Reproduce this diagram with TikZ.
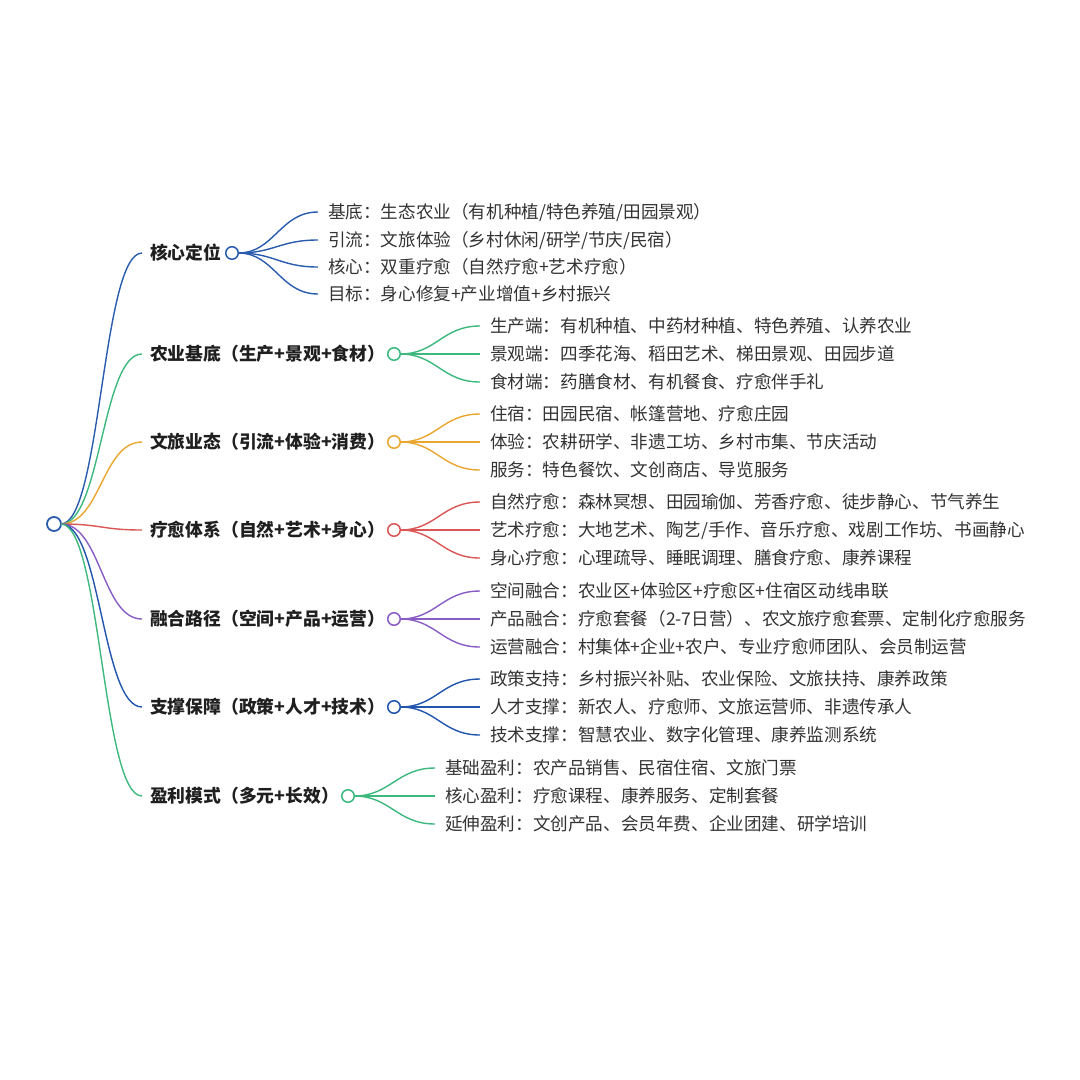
\documentclass[tikz,border=0pt]{standalone}
\usepackage{fontspec}
\setmainfont{Noto Sans CJK SC}
\definecolor{cA}{HTML}{2A5CAE}
\definecolor{cB}{HTML}{3DB97E}
\definecolor{cC}{HTML}{E9A630}
\definecolor{cD}{HTML}{DB5656}
\definecolor{cE}{HTML}{8A5DC4}
\definecolor{cF}{HTML}{2255AE}
\definecolor{cG}{HTML}{3DB97E}
\begin{document}
\begin{tikzpicture}[x=1pt,y=-1pt,
  every node/.style={inner sep=0pt,outer sep=0pt},
  lone/.style={anchor=west,font=\fontsize{17.8pt}{20pt}\selectfont\bfseries,text=black!88,text height=14pt,text depth=0.5pt},
  ltwo/.style={anchor=west,font=\fontsize{17.6pt}{20pt}\selectfont,text=black!80,text height=14pt,text depth=0.5pt},
  dot/.style={circle,draw,fill=white,line width=1.5pt,minimum size=12.5pt},
  link/.style={line width=1.4pt}]
\useasboundingbox[fill=white] (0,0) rectangle (1080,1080);

% root
\node[dot,draw=cA,minimum size=14pt,line width=1.8pt] (root) at (54,524) {};

% level 1 labels
\node[lone] (k1) at (150,253) {核心定位};
\node[lone] (k2) at (150,354) {农业基底（生产+景观+食材）};
\node[lone] (k3) at (150,442) {文旅业态（引流+体验+消费）};
\node[lone] (k4) at (150,530) {疗愈体系（自然+艺术+身心）};
\node[lone] (k5) at (150,619) {融合路径（空间+产品+运营）};
\node[lone] (k6) at (150,707) {支撑保障（政策+人才+技术）};
\node[lone] (k7) at (150,796) {盈利模式（多元+长效）};

% level 1 dots
\node[dot,draw=cA] (d1) at (232,253) {};
\node[dot,draw=cB] (d2) at (394,354) {};
\node[dot,draw=cC] (d3) at (394,442) {};
\node[dot,draw=cD] (d4) at (394,530) {};
\node[dot,draw=cE] (d5) at (394,619) {};
\node[dot,draw=cF] (d6) at (394,707) {};
\node[dot,draw=cG] (d7) at (348,796) {};

% root links
\foreach \k/\c in {k1/cA,k2/cB,k3/cC,k4/cD,k5/cE,k6/cF,k7/cG}
  \draw[link,\c] (root.east) .. controls +(40,0) and +(-40,0) .. ([xshift=-8pt]\k.west);

% level 2 texts
\node[ltwo] (a1) at (328,212) {基底：生态农业（有机种植/特色养殖/田园景观）};
\node[ltwo] (a2) at (328,240) {引流：文旅体验（乡村休闲/研学/节庆/民宿）};
\node[ltwo] (a3) at (328,267) {核心：双重疗愈（自然疗愈+艺术疗愈）};
\node[ltwo] (a4) at (328,294) {目标：身心修复+产业增值+乡村振兴};

\node[ltwo] (b1) at (490,326) {生产端：有机种植、中药材种植、特色养殖、认养农业};
\node[ltwo] (b2) at (490,354) {景观端：四季花海、稻田艺术、梯田景观、田园步道};
\node[ltwo] (b3) at (490,382) {食材端：药膳食材、有机餐食、疗愈伴手礼};

\node[ltwo] (c1) at (490,414) {住宿：田园民宿、帐篷营地、疗愈庄园};
\node[ltwo] (c2) at (490,442) {体验：农耕研学、非遗工坊、乡村市集、节庆活动};
\node[ltwo] (c3) at (490,470) {服务：特色餐饮、文创商店、导览服务};

\node[ltwo] (e1) at (490,502) {自然疗愈：森林冥想、田园瑜伽、芳香疗愈、徒步静心、节气养生};
\node[ltwo] (e2) at (490,530) {艺术疗愈：大地艺术、陶艺/手作、音乐疗愈、戏剧工作坊、书画静心};
\node[ltwo] (e3) at (490,558) {身心疗愈：心理疏导、睡眠调理、膳食疗愈、康养课程};

\node[ltwo] (f1) at (490,591) {空间融合：农业区+体验区+疗愈区+住宿区动线串联};
\node[ltwo] (f2) at (490,619) {产品融合：疗愈套餐（2-7日营）、农文旅疗愈套票、定制化疗愈服务};
\node[ltwo] (f3) at (490,647) {运营融合：村集体+企业+农户、专业疗愈师团队、会员制运营};

\node[ltwo] (g1) at (490,679) {政策支持：乡村振兴补贴、农业保险、文旅扶持、康养政策};
\node[ltwo] (g2) at (490,707) {人才支撑：新农人、疗愈师、文旅运营师、非遗传承人};
\node[ltwo] (g3) at (490,735) {技术支撑：智慧农业、数字化管理、康养监测系统};

\node[ltwo] (h1) at (445,768) {基础盈利：农产品销售、民宿住宿、文旅门票};
\node[ltwo] (h2) at (445,796) {核心盈利：疗愈课程、康养服务、定制套餐};
\node[ltwo] (h3) at (445,824) {延伸盈利：文创产品、会员年费、企业团建、研学培训};

% level 2 links
\foreach \d/\t/\c in {d1/a1/cA,d1/a2/cA,d1/a3/cA,d1/a4/cA,
  d2/b1/cB,d2/b2/cB,d2/b3/cB,
  d3/c1/cC,d3/c2/cC,d3/c3/cC,
  d4/e1/cD,d4/e2/cD,d4/e3/cD,
  d5/f1/cE,d5/f2/cE,d5/f3/cE,
  d6/g1/cF,d6/g2/cF,d6/g3/cF,
  d7/h1/cG,d7/h2/cG,d7/h3/cG}
  \draw[link,\c] (\d.east) .. controls +(36,0) and +(-38,0) .. ([xshift=-10pt]\t.west);
\end{tikzpicture}
\end{document}
